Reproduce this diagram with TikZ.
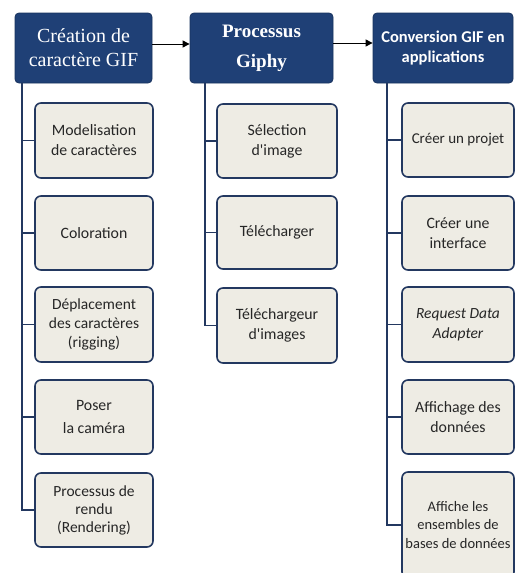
\documentclass[tikz,border=0pt]{standalone}
\usepackage{fontspec}
\setmainfont{Liberation Serif}
\newfontfamily\boxfont{Carlito}
\usetikzlibrary{arrows.meta}
\definecolor{navy}{RGB}{31,64,118}
\definecolor{boxborder}{RGB}{35,56,96}
\definecolor{boxfill}{RGB}{238,236,228}
\definecolor{txt}{RGB}{38,38,38}
\tikzset{
  head/.style={draw=navy!80!black, fill=navy, rounded corners=4pt, line width=0.8pt,
    text=white, align=center, inner sep=2pt},
  subbox/.style={draw=boxborder, fill=boxfill, rounded corners=6pt, line width=1.6pt,
    text=txt, align=center, inner sep=2pt, font=\boxfont\fontsize{15.8}{20}\selectfont},
  conn/.style={draw=boxborder, line width=1.6pt},
  arr/.style={draw=black, line width=1pt, -{Triangle[length=7pt,width=7pt]}}
}
\begin{document}
\begin{tikzpicture}[x=1pt,y=1pt]
\useasboundingbox (0,0) rectangle (515,-573);
\fill[white] (0,0) rectangle (515,-573);
% headers
\node[head, minimum width=137pt, minimum height=70pt, font=\fontsize{20}{24}\selectfont] (h1) at (83.5,-48) {Création de\\caractère GIF};
\node[head, minimum width=143pt, minimum height=70pt, font=\bfseries\fontsize{19}{30}\selectfont] (h2) at (261.5,-48) {Processus\\Giphy};
\node[head, minimum width=140pt, minimum height=70pt, font=\boxfont\bfseries\fontsize{16.5}{20}\selectfont] (h3) at (443,-48) {Conversion GIF en\\applications};
\draw[arr] ([yshift=4pt]h1.east) -- ([yshift=4pt]h2.west);
\draw[arr] ([yshift=5pt]h2.east) -- ([yshift=5pt]h3.west);
% column 1
\node[subbox, minimum width=118pt, minimum height=75pt] (b11) at (94,-140.5) {Modelisation\\de caractères};
\node[subbox, minimum width=118pt, minimum height=74pt] (b12) at (94,-233) {Coloration};
\node[subbox, minimum width=118pt, minimum height=75pt, font=\boxfont\fontsize{15.5}{19}\selectfont] (b13) at (94,-324.5) {Déplacement\\des caractères\\(rigging)};
\node[subbox, minimum width=118pt, minimum height=74pt, font=\boxfont\fontsize{15.8}{23}\selectfont] (b14) at (94,-417) {Poser\\la caméra};
\node[subbox, minimum width=118pt, minimum height=74pt, font=\boxfont\fontsize{15.5}{18}\selectfont] (b15) at (94,-510) {Processus de\\rendu\\(Rendering)};
\coordinate (v1) at (22,-83);
\draw[conn] (v1) |- (b15.west);
\foreach \b in {b11,b12,b13,b14} \draw[conn] (v1 |- \b.west) -- (\b.west);
% column 2
\node[subbox, minimum width=120pt, minimum height=74pt] (b21) at (277,-141) {Sélection\\d'image};
\node[subbox, minimum width=120pt, minimum height=73pt] (b22) at (277,-232.5) {Télécharger};
\node[subbox, minimum width=120pt, minimum height=75pt] (b23) at (277,-325.5) {Téléchargeur\\d'images};
\coordinate (v2) at (205,-83);
\draw[conn] (v2) |- (b23.west);
\foreach \b in {b21,b22} \draw[conn] (v2 |- \b.west) -- (\b.west);
% column 3
\node[subbox, minimum width=112pt, minimum height=74pt, font=\boxfont\fontsize{15}{20}\selectfont] (b31) at (458,-140) {Créer un projet};
\node[subbox, minimum width=112pt, minimum height=74pt] (b32) at (458,-233) {Créer une\\interface};
\node[subbox, minimum width=112pt, minimum height=75pt, font=\boxfont\itshape\fontsize{15.5}{20}\selectfont] (b33) at (458,-324.5) {Request Data\\Adapter};
\node[subbox, minimum width=112pt, minimum height=74pt] (b34) at (458,-417) {Affichage des\\données};
\node[subbox, minimum width=112pt, minimum height=106pt, font=\boxfont\fontsize{14.5}{18.5}\selectfont] (b35) at (458,-525) {Affiche les\\ensembles de\\bases de données};
\coordinate (v3) at (387,-83);
\draw[conn] (v3) |- (b35.west);
\foreach \b in {b31,b32,b33,b34} \draw[conn] (v3 |- \b.west) -- (\b.west);
\end{tikzpicture}
\end{document}
